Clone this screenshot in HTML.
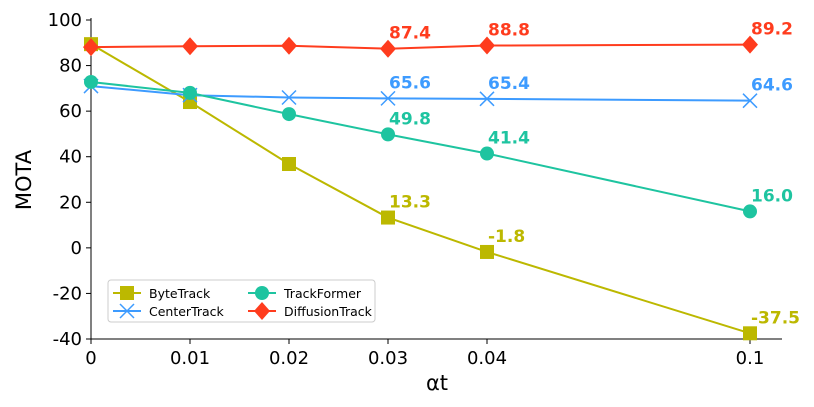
<!DOCTYPE html>
<html><head><meta charset="utf-8"><style>
body{margin:0;background:#fff;}
svg{display:block;font-family:"DejaVu Sans","Liberation Sans",sans-serif;}
</style></head><body>
<svg id="chart" width="814" height="407"></svg>
<script>
const categories=["0","0.01","0.02","0.03","0.04","0.1"];
const xValues=[0,0.01,0.02,0.03,0.04,0.1];
const byteTrack=[89.4,64.0,36.8,13.3,-1.8,-37.5];
const centerTrack=[71.0,67.0,66.0,65.6,65.4,64.6];
const trackFormer=[72.8,68.0,58.7,49.8,41.4,16.0];
const diffusionTrack=[88.1,88.5,88.7,87.4,88.8,89.2];
const yTicks=[-40,-20,0,20,40,60,80,100];
const labelIdx=[3,4,5];

const svg=document.getElementById('chart');
const NS='http://www.w3.org/2000/svg';
function mk(t,a,p){const e=document.createElementNS(NS,t);for(const k in a)e.setAttribute(k,a[k]);(p||svg).appendChild(e);return e;}
function xs(v){return v<=0.04?91+v/0.01*99:91+4*99+(v-0.04)/0.06*263;}
function ys(v){return 339-(v+40)*(319/140);}

let e;
e=mk('line',{x1:91,y1:18,x2:91,y2:339,stroke:'#000','stroke-width':1});

e=mk('line',{x1:91,y1:339,x2:782,y2:339,stroke:'#000','stroke-width':1});

yTicks.forEach(t=>{
  const y=ys(t);
  mk('line',{x1:86,y1:y,x2:91,y2:y,stroke:'#000'});
  e=mk('text',{x:82,y:y+6,'text-anchor':'end','font-size':18});e.textContent=t;
  
});
xValues.forEach((v,i)=>{
  const x=xs(v);
  mk('line',{x1:x,y1:339,x2:x,y2:344,stroke:'#000'});
  e=mk('text',{x:x,y:364,'text-anchor':'middle','font-size':18});e.textContent=categories[i];
  
});
e=mk('text',{x:437,y:390,'text-anchor':'middle','font-size':21});e.textContent='αt';

e=mk('text',{x:0,y:0,'text-anchor':'middle','font-size':21,transform:'translate(31,180) rotate(-90)'});e.textContent='MOTA';


function marker(kind,x,y,c,g){
  if(kind==='sq')return mk('rect',{x:x-7,y:y-7,width:14,height:14,fill:c},g);
  if(kind==='ci')return mk('circle',{cx:x,cy:y,r:7,fill:c},g);
  if(kind==='di')return mk('polygon',{points:`${x},${y-9} ${x+8},${y} ${x},${y+9} ${x-8},${y}`,fill:c},g);
  return mk('path',{d:`M${x-7},${y-7}L${x+7},${y+7}M${x-7},${y+7}L${x+7},${y-7}`,stroke:c,'stroke-width':1.5,fill:'none'},g);
}
const series=[
 {name:'ByteTrack',data:byteTrack,c:'#bcb800',m:'sq'},
 {name:'CenterTrack',data:centerTrack,c:'#3d9bff',m:'x'},
 {name:'TrackFormer',data:trackFormer,c:'#1ec4a0',m:'ci'},
 {name:'DiffusionTrack',data:diffusionTrack,c:'#ff3c1e',m:'di'}];
series.forEach(s=>{
  const g=mk('g',{});
  
  
  const pts=s.data.map((v,i)=>xs(xValues[i])+','+ys(v)).join(' ');
  mk('polyline',{points:pts,fill:'none',stroke:s.c,'stroke-width':2},g);
  s.data.forEach((v,i)=>{
    const m=marker(s.m,xs(xValues[i]),ys(v),s.c,g);
    
    
  });
  labelIdx.forEach(i=>{
    const t=mk('text',{x:xs(xValues[i])+1,y:ys(s.data[i])-10,fill:s.c,'font-size':17,'font-weight':'bold'},g);
    t.textContent=s.data[i].toFixed(1);
    
    
  });
});
const lg=mk('g',{});


mk('rect',{x:108,y:280,width:267,height:42,rx:3,fill:'#fff',stroke:'#ccc'},lg);
const pos=[[113,293],[113,311],[248,293],[248,311]];
series.forEach((s,i)=>{
  const [x,y]=pos[i];
  mk('line',{x1:x,y1:y,x2:x+28,y2:y,stroke:s.c,'stroke-width':2},lg);
  marker(s.m,x+14,y,s.c,lg);
  const t=mk('text',{x:x+36,y:y+5,'font-size':12.5},lg);t.textContent=s.name;
  
  
});
</script>
</body></html>
